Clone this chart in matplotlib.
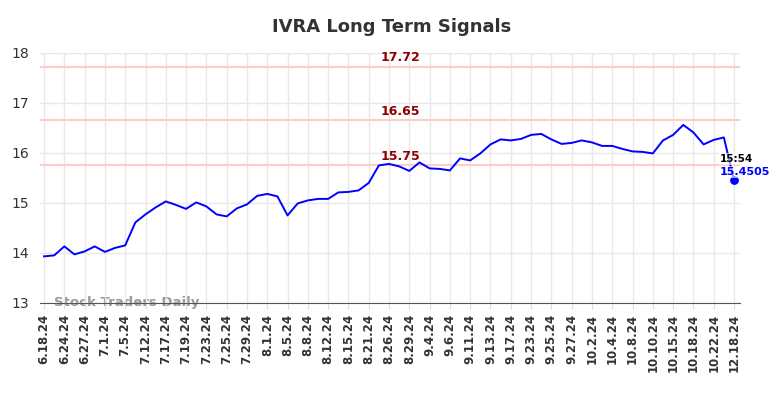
import matplotlib.pyplot as plt
import numpy as np

# tick labels (one every other data point)
date_labels = [
    "6.18.24", "6.24.24", "6.27.24", "7.1.24", "7.5.24", "7.12.24", "7.17.24",
    "7.19.24", "7.23.24", "7.25.24", "7.29.24", "8.1.24", "8.5.24", "8.8.24",
    "8.12.24", "8.15.24", "8.21.24", "8.26.24", "8.29.24", "9.4.24", "9.6.24",
    "9.11.24", "9.13.24", "9.17.24", "9.23.24", "9.25.24", "9.27.24", "10.2.24",
    "10.4.24", "10.8.24", "10.10.24", "10.15.24", "10.18.24", "10.22.24", "12.18.24",
]

prices = [
    13.93, 13.95, 14.13, 13.97, 14.03, 14.13, 14.02, 14.10, 14.15, 14.61,
    14.77, 14.91, 15.03, 14.96, 14.88, 15.01, 14.93, 14.77, 14.73, 14.89,
    14.97, 15.14, 15.18, 15.13, 14.75, 14.99, 15.05, 15.08, 15.08, 15.21,
    15.22, 15.25, 15.40, 15.75, 15.78, 15.73, 15.64, 15.81, 15.69, 15.68,
    15.65, 15.89, 15.85, 15.99, 16.17, 16.27, 16.25, 16.28, 16.36, 16.38,
    16.27, 16.18, 16.20, 16.25, 16.21, 16.14, 16.14, 16.08, 16.03, 16.02,
    15.99, 16.25, 16.36, 16.56, 16.41, 16.17, 16.26, 16.31, 15.4505,
]

signal_levels = [17.72, 16.65, 15.75]
last_time = "15:54"

x = np.arange(len(prices))
tick_pos = x[::2]

fig = plt.figure(figsize=(7.84, 3.98), dpi=100)
ax = fig.add_axes([0.051, 0.239, 0.893, 0.628])

for lvl in signal_levels:
    ax.axhline(lvl, color="#ffcccc", linewidth=1.5, zorder=1)
    ax.text(x[len(x) // 2] + 1.1, lvl + 0.05, f"{lvl:.2f}", color="#8b0000",
            fontsize=9, fontweight="bold", ha="center", va="bottom", zorder=3)

ax.plot(x, prices, color="#0000ff", linewidth=1.4, zorder=2)
ax.scatter(x[-1], prices[-1], color="#0000ff", s=28, zorder=4)
ax.text(x[-1] - 1.4, prices[-1] + 0.43, last_time, color="black", fontsize=7.5,
        fontweight="bold", ha="left", va="center", zorder=5,
        bbox=dict(facecolor="white", edgecolor="none", alpha=0.6, pad=0.5))
ax.text(x[-1] - 1.4, prices[-1] + 0.17, f"{prices[-1]:.4f}", color="#0000ff", fontsize=8,
        fontweight="bold", ha="left", va="center", zorder=5,
        bbox=dict(facecolor="white", edgecolor="none", alpha=0.6, pad=0.5))

ax.text(1, 13.0, "Stock Traders Daily", color="#999999", fontsize=9.5,
        fontweight="bold", ha="left", va="center", zorder=0)

ax.set_xlim(-0.4, len(prices) - 0.4)
ax.set_ylim(13, 18)
ax.set_xticks(tick_pos)
ax.set_xticklabels(date_labels, rotation=90, fontsize=8.5, fontweight="bold", color="#333333")
ax.set_yticks(range(13, 19))
ax.tick_params(axis="y", labelsize=10, labelcolor="#333333", length=0, pad=8)
ax.tick_params(axis="x", length=4, color="#dddddd", pad=4)

ax.grid(True, color="#e8e8e8", linewidth=1)
ax.set_axisbelow(True)
for side in ["top", "right", "left"]:
    ax.spines[side].set_visible(False)
ax.spines["bottom"].set_color("#555555")

fig.suptitle("IVRA Long Term Signals", x=0.5, y=0.955, fontsize=13,
             fontweight="bold", color="#333333")

fig.savefig("out.png", dpi=100)
